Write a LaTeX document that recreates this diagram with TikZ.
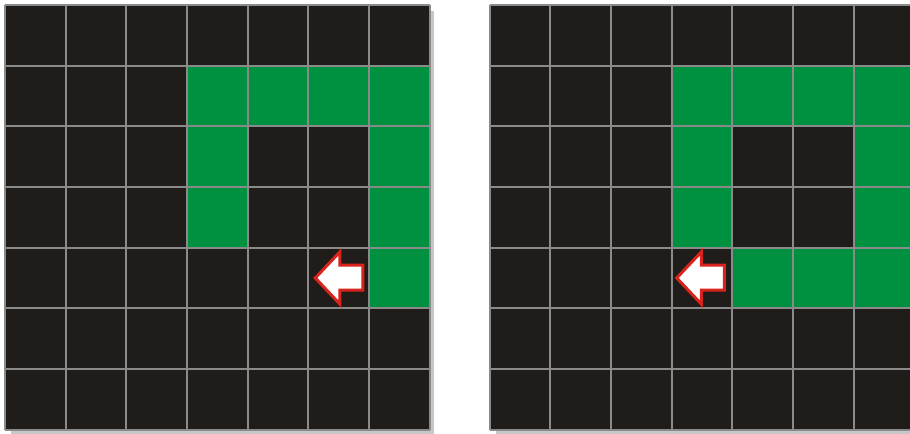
\documentclass[tikz,border=0pt]{standalone}
\usetikzlibrary{calc}

\definecolor{cellblack}{RGB}{32,28,26}
\definecolor{cellgreen}{RGB}{0,145,64}
\definecolor{linegray}{RGB}{138,138,138}
\definecolor{arrowred}{RGB}{216,36,28}

\tikzset{
  board/.style={fill=cellblack},
  lit/.style={fill=cellgreen},
  gridline/.style={draw=linegray, line width=0.9pt},
  shadowbox/.style={fill=black!22},
  marker/.style={draw=arrowred, fill=white, line width=1.4pt, line join=miter},
  backarrow/.pic={
    \path[marker] (0.115,0.5) -- (0.52,0.93) -- (0.52,0.71) -- (0.9,0.71)
      -- (0.9,0.3) -- (0.52,0.3) -- (0.52,0.07) -- cycle;
  }
}

\begin{document}
\begin{tikzpicture}[x=1cm, y=1cm]
    \useasboundingbox[fill=white] (0,0) rectangle (15,7.15);
    \clip (0,0) rectangle (15,7.15);

    % Left board
    \begin{scope}[shift={(0.082,0.068)}]
        \fill[shadowbox] (0.1,-0.07) rectangle (7.07,6.9);
        \fill[board] (0,0) rectangle (7,7);
        \foreach \c/\r in {3/1,4/1,5/1,6/1,3/2,6/2,3/3,6/3,6/4}
            \fill[lit] (\c,6-\r) rectangle ++(1,1);
        \draw[gridline] (0,0) grid[step=1] (7,7);
        \pic at (5,2) {backarrow};
    \end{scope}

    % Right board
    \begin{scope}[shift={(8.07,0.068)}]
        \fill[shadowbox] (0.1,-0.07) rectangle (7.07,6.9);
        \fill[board] (0,0) rectangle (7,7);
        \foreach \c/\r in {3/1,4/1,5/1,6/1,3/2,6/2,3/3,6/3,4/4,5/4,6/4}
            \fill[lit] (\c,6-\r) rectangle ++(1,1);
        \draw[gridline] (0,0) grid[step=1] (7,7);
        \pic at (2.97,2) {backarrow};
    \end{scope}
\end{tikzpicture}
\end{document}
